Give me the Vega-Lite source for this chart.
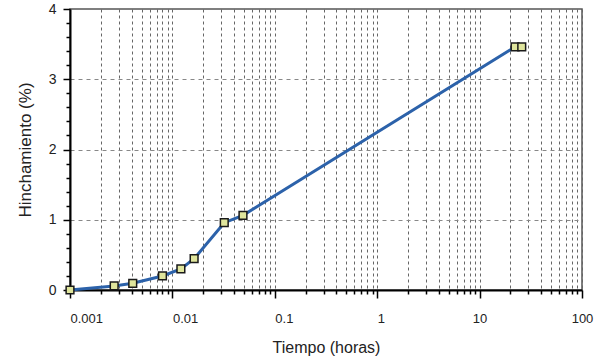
{
  "$schema": "https://vega.github.io/schema/vega-lite/v6.json",
  "width": 512,
  "height": 281,
  "autosize": {"type": "none"},
  "padding": {"left": 70, "top": 9, "right": 17, "bottom": 68},
  "background": "white",
  "config": {
    "view": {"stroke": "#555555", "strokeWidth": 1.5},
    "font": "Liberation Sans"
  },
  "data": {
    "values": [
      {"t": 0.001, "h": 0},
      {"t": 0.0027, "h": 0.057},
      {"t": 0.0041, "h": 0.095},
      {"t": 0.008, "h": 0.2},
      {"t": 0.0121, "h": 0.3},
      {"t": 0.0163, "h": 0.445},
      {"t": 0.0321, "h": 0.958},
      {"t": 0.0489, "h": 1.063},
      {"t": 22.2, "h": 3.46},
      {"t": 25.8, "h": 3.46}
    ]
  },
  "encoding": {
    "x": {
      "field": "t",
      "type": "quantitative",
      "scale": {"type": "log", "domain": [0.001, 100], "nice": false},
      "axis": {
        "title": "Tiempo (horas)",
        "titleFontSize": 16,
        "titleFontWeight": "normal",
        "titleColor": "#222222",
        "titlePadding": 14,
        "values": [0.001,0.002,0.003,0.004,0.005,0.006,0.007,0.008,0.009,0.01,0.02,0.03,0.04,0.05,0.06,0.07,0.08,0.09,0.1,0.2,0.3,0.4,0.5,0.6,0.7,0.8,0.9,1,2,3,4,5,6,7,8,9,10,20,30,40,50,60,70,80,90,100],
        "labelExpr": "datum.value==0.001?'0.001':datum.value==0.01?'0.01':datum.value==0.1?'0.1':datum.value==1?'1':datum.value==10?'10':datum.value==100?'100':''",
        "labelFontSize": 13,
        "labelColor": "#222222",
        "labelPadding": 14,
        "labelAlign": {"condition": {"test": "datum.value < 5", "value": "left"}, "value": "center"},
        "labelOverlap": false,
        "labelBound": false,
        "labelFlush": false,
        "domainColor": "#000000",
        "domainWidth": 2,
        "tickColor": "#000000",
        "tickWidth": 1.5,
        "tickSize": {"condition": {"test": "datum.value==0.001||datum.value==0.01||datum.value==0.1||datum.value==1||datum.value==10||datum.value==100", "value": 8}, "value": 4},
        "grid": true,
        "gridColor": "#666666",
        "gridDash": [3, 3],
        "gridWidth": 1
      }
    },
    "y": {
      "field": "h",
      "type": "quantitative",
      "scale": {"domain": [0, 4], "nice": false},
      "axis": {
        "title": "Hinchamiento (%)",
        "titleFontSize": 17,
        "titleFontWeight": "normal",
        "titleColor": "#222222",
        "titlePadding": 14,
        "values": [0,0.2,0.4,0.6,0.8,1,1.2,1.4,1.6,1.8,2,2.2,2.4,2.6,2.8,3,3.2,3.4,3.6,3.8,4],
        "labelExpr": "datum.value % 1 == 0 ? format(datum.value, 'd') : ''",
        "labelFontSize": 14,
        "labelColor": "#222222",
        "labelPadding": 7,
        "labelOverlap": false,
        "labelBound": false,
        "labelFlush": false,
        "domainColor": "#000000",
        "domainWidth": 2,
        "tickColor": "#000000",
        "tickWidth": 1.5,
        "tickSize": {"condition": {"test": "datum.value % 1 == 0", "value": 7}, "value": 4},
        "grid": true,
        "gridColor": "#888888",
        "gridDash": [4, 4],
        "gridWidth": 1,
        "gridOpacity": {"condition": {"test": "datum.value % 1 == 0 && datum.value > 0 && datum.value < 4", "value": 1}, "value": 0}
      }
    }
  },
  "layer": [
    {
      "mark": {"type": "line", "interpolate": "linear", "color": "#2c62aa", "strokeWidth": 3}
    },
    {
      "mark": {"type": "point", "shape": "square", "filled": true, "fill": "#dfe59c", "stroke": "#1a1a1a", "strokeWidth": 1.5, "size": 60, "opacity": 1}
    }
  ]
}
